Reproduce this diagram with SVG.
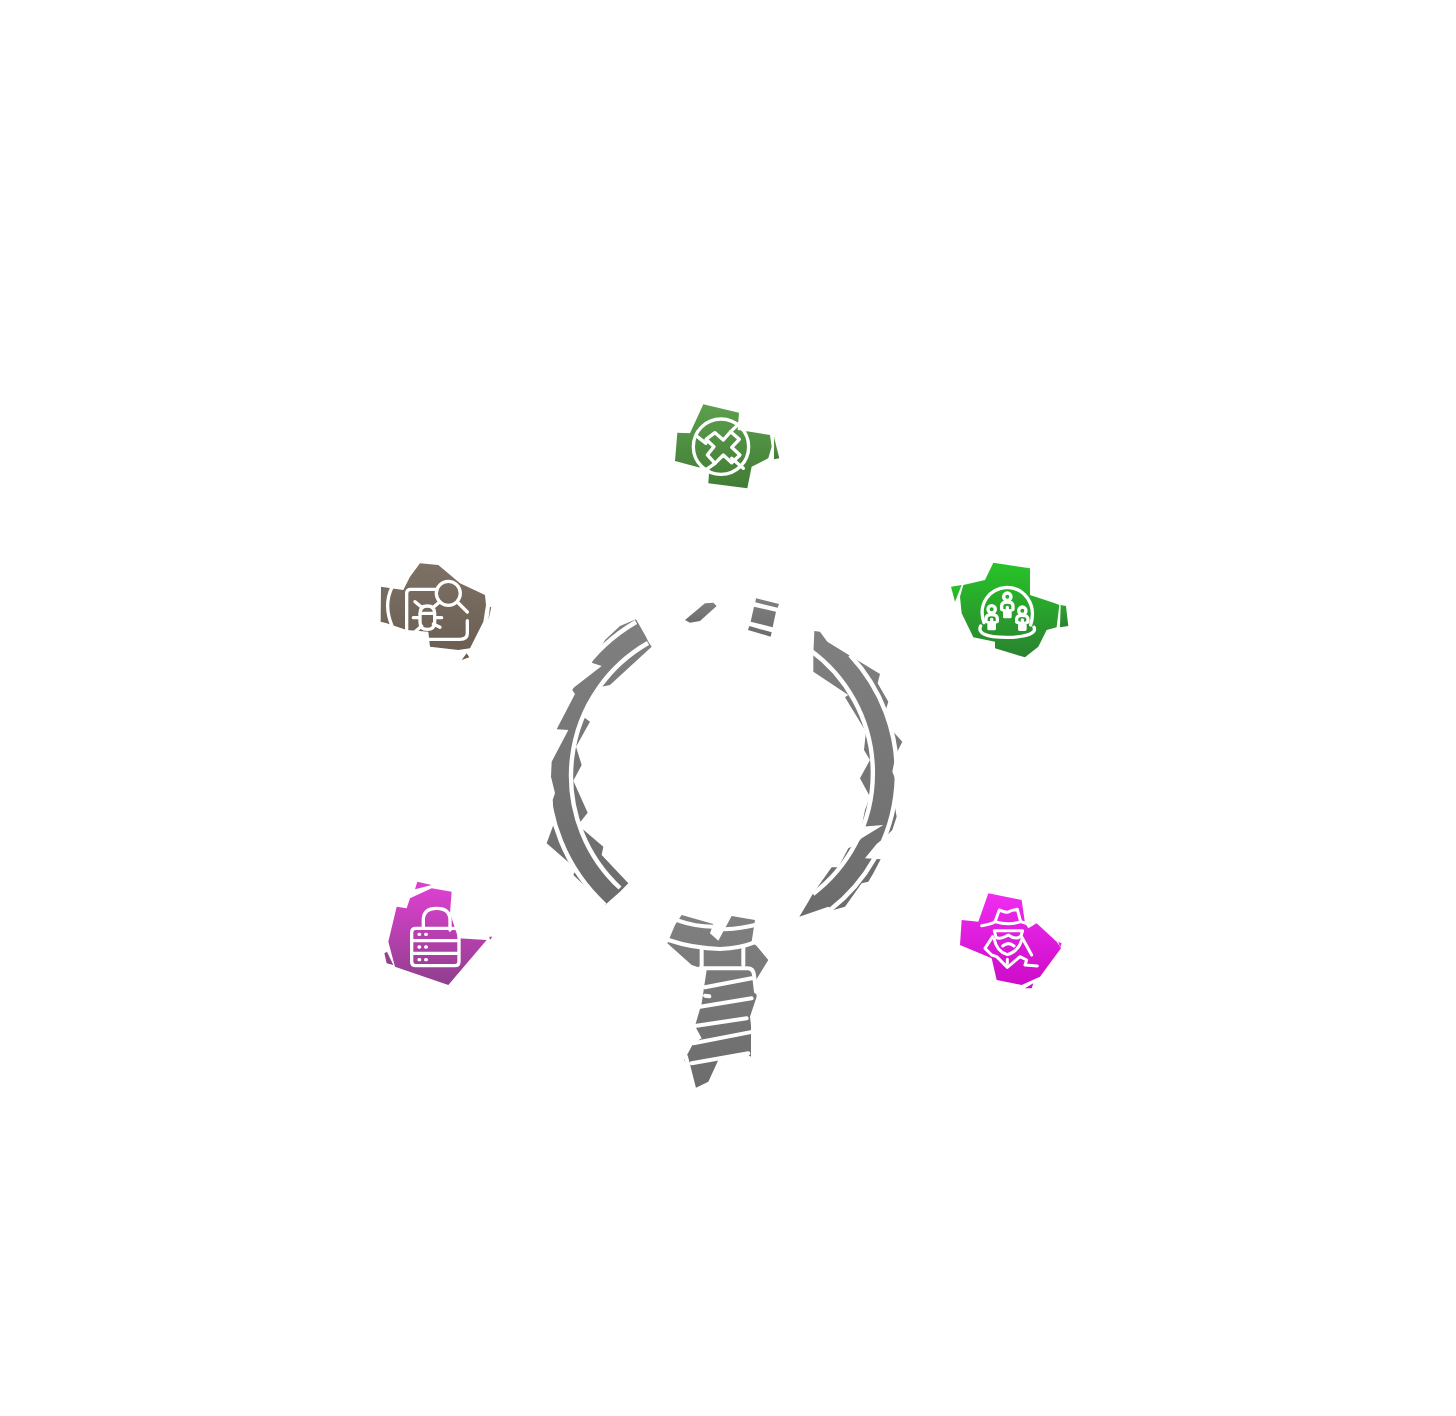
<svg xmlns="http://www.w3.org/2000/svg" width="1456" height="1416" viewBox="0 0 1456 1416">
<defs>
<linearGradient id="gGreen" x1="0" y1="0" x2="0" y2="1"><stop offset="0" stop-color="#5c9f4c"/><stop offset="1" stop-color="#417c36"/></linearGradient>
<linearGradient id="gLime" x1="0" y1="0" x2="0" y2="1"><stop offset="0" stop-color="#28c428"/><stop offset="1" stop-color="#2a8230"/></linearGradient>
<linearGradient id="gBrown" x1="0" y1="0" x2="0" y2="1"><stop offset="0" stop-color="#7d7064"/><stop offset="1" stop-color="#6b5e52"/></linearGradient>
<linearGradient id="gPurple" x1="0" y1="0" x2="0" y2="1"><stop offset="0" stop-color="#dc40d0"/><stop offset="1" stop-color="#8f3f8c"/></linearGradient>
<linearGradient id="gMagenta" x1="0" y1="0" x2="0" y2="1"><stop offset="0" stop-color="#f02cf0"/><stop offset="1" stop-color="#cc0cc8"/></linearGradient>
<linearGradient id="gGray" x1="0" y1="0" x2="0" y2="1"><stop offset="0" stop-color="#808080"/><stop offset="1" stop-color="#6c6c6c"/></linearGradient>
</defs>
<style>
.i{fill:none;stroke:#fff;stroke-width:10;stroke-linecap:round;stroke-linejoin:round}
.w{fill:none;stroke:#fff;stroke-width:4.4}
.h{fill:none;stroke:#fff;stroke-width:12;stroke-linecap:round;stroke-linejoin:round}
.p{fill:none;stroke:#fff;stroke-width:9;stroke-linecap:round;stroke-linejoin:round}
</style>
<rect width="1456" height="1416" fill="#fff"/>

<g id="node-green" transform="translate(660 390) scale(.3333)">
<path fill="url(#gGreen)" d="M130 43L237 68L233 120L270 125L330 135L335 170L325 205L275 230L262 295L145 280L148 235L115 232L45 213L52 128L90 130Z"/>
<path fill="url(#gGreen)" d="M342 140L358 205L342 208Z"/>
<circle class="i" cx="183" cy="170" r="83"/>
<path class="i" d="M165 128L190 150L212 125L238 148L215 172L240 195L215 218L190 195L165 220L142 195L162 170L138 148Z"/>
<path class="i" d="M238 100L212 125M112 140L138 160M130 245L165 220M250 235L215 205"/>
</g>

<g id="node-lime" transform="translate(940 550) scale(.3333)">
<path fill="url(#gLime)" d="M160 38L270 55L270 135L345 160L358 165L350 232L320 240L295 290L255 322L165 295L165 275L100 262L65 190L60 140L70 105L135 90Z"/>
<path fill="url(#gLime)" d="M33 110L65 105L45 155ZM362 165L378 168L385 228L360 232Z"/>
<path class="i" d="M132 218C112 160 150 115 200 112C250 112 292 160 272 225"/>
<path class="i" d="M122 228C112 248 135 262 200 262C265 262 290 248 282 232"/>
<circle class="i" cx="202" cy="140" r="11"/>
<path class="i" d="M185 178V168Q185 156 202 156Q219 156 219 168V178L210 182V200H194V182ZM202 172V198"/>
<circle class="i" cx="155" cy="178" r="11"/>
<path class="i" d="M138 214V206Q138 194 155 194Q172 194 172 206V214L163 218V236H147V218ZM155 208V234"/>
<circle class="i" cx="247" cy="182" r="11"/>
<path class="i" d="M230 216V208Q230 196 247 196Q264 196 264 208V216L255 220V238H239V220ZM247 210V236"/>
</g>

<g id="node-brown" transform="translate(370 550) scale(.3333)">
<path fill="url(#gBrown)" d="M150 40L205 45L270 100L345 135L348 165L340 215L300 295L265 300L180 290L175 245L110 240L50 220L32 215L33 110L100 120L120 80Z"/>
<path fill="url(#gBrown)" d="M360 170L364 172L355 210ZM290 310L298 322L275 330Z"/>
<path class="i" d="M66 112Q40 165 66 228"/>
<path class="i" d="M110 240V130Q110 118 122 118H198M292 212V250Q292 268 270 268H175"/>
<circle class="i" cx="235" cy="130" r="36"/>
<path class="i" d="M262 156L292 186"/>
<path class="i" d="M150 190Q150 168 172 168Q194 168 194 190V215Q194 238 172 238Q150 238 150 215ZM135 155L155 172M210 155L190 172M130 203H150M194 203H215M135 245L155 228M210 232L190 222M150 190H194"/>
</g>

<g id="node-purple" transform="translate(375 870) scale(.3333)">
<path fill="url(#gPurple)" d="M105 85L170 55L230 65L225 130L250 205L335 210L220 345L60 290L40 215L65 110L95 115Z"/>
<path fill="url(#gPurple)" d="M127 35L170 45L120 58ZM28 250L36 245L55 285L35 280ZM343 200L352 200L345 210Z"/>
<path class="i" d="M145 175V150Q145 115 185 115Q225 115 225 150V180"/>
<path class="i" d="M122 175H240Q252 175 252 187V275Q252 287 240 287H122Q110 287 110 275V187Q110 175 122 175ZM110 212H252M110 250H252"/>
<path class="i" d="M132 193H134M152 193H154M132 231H134M152 231H154M132 269H134M152 269H154"/>
</g>

<g id="node-magenta" transform="translate(950 880) scale(.3333)">
<path fill="url(#gMagenta)" d="M115 40L215 60L225 130L235 145L260 130L320 185L333 205L270 290L215 315L140 300L125 235L30 195L35 120L85 125Z"/>
<path fill="url(#gMagenta)" d="M325 185L335 190L330 205ZM225 325L250 310L245 325Z"/>
<path class="p" d="M95 137Q125 132 135 125L148 90Q165 97 172 97Q185 90 202 88L212 125Q225 130 240 132"/>
<path class="p" d="M135 125Q175 138 212 125"/>
<path class="p" d="M133 152H218L212 170Q195 180 175 165Q150 180 138 172Z"/>
<path class="p" d="M133 178Q140 215 172 224Q205 215 216 178M158 198Q175 184 192 198"/>
<path class="p" d="M128 170L105 205L125 225L140 230L172 262L210 230L230 240L225 255L262 258M215 170L245 225M172 238V250"/>
</g>

<g id="magnifier-ring">
<g transform="translate(540 590) scale(.3333)">
<path fill="url(#gGray)" d="M288 88L240 108L195 150L155 218L185 228L95 298L105 312L50 418L85 420L35 515L33 560L45 610L38 630L42 700L20 760L95 825L105 845L100 855L195 945L240 905L265 880L185 795L190 770L125 715L118 700L143 668L100 572L125 525L108 470L150 395L130 380L172 300L185 290L210 285L335 170L325 155L318 140L298 105Z"/>
<path fill="url(#gGray)" d="M495 40L520 38L530 48L480 93L450 98L435 90Z"/>
</g>
<g transform="translate(730 590) scale(.3333)">
<path fill="url(#gGray)" d="M253 123L270 125L292 155L365 200L450 252L443 280L475 335L465 368L485 420L517 455L497 495L487 545L503 585L493 640L500 680L487 720L465 742L440 762L405 805L452 808L430 850L415 875L395 880L345 950L310 960L295 950L208 980L235 935L248 912L305 832L325 832L355 775L375 765L395 745L460 705L395 710L405 660L420 620L390 565L420 510L402 480L408 425L345 322L355 315L250 245L250 195Z"/>
<path fill="url(#gGray)" d="M78 25L147 42L143 53L76 37ZM72 50L138 65L128 112L62 95ZM58 108L125 127L122 140L54 120Z"/>
</g>
<path class="w" d="M648 643A153 153 0 0 0 620 888"/>
<path class="w" d="M636 622A177 177 0 0 0 605 905"/>
<path class="w" d="M810 650A152 152 0 0 1 813 894"/>
<path class="w" d="M850 655A173 173 0 0 1 830 910"/>
</g>

<g id="magnifier-handle" transform="translate(650 900) scale(.3333)">
<path fill="url(#gGray)" d="M95 45L190 72L180 100L205 122L245 48L315 60L305 125L320 138L355 180L315 245L320 290L300 350L303 375L303 470L290 462L205 480L175 545L135 565L120 510L103 480L130 430L155 415L135 378L155 310L170 210L125 195L52 130L75 75Z"/>
<path class="h" d="M85 62Q135 80 190 80M225 88Q275 85 315 75"/>
<path class="h" d="M55 120Q130 145 210 147Q270 145 320 125"/>
<path class="h" d="M155 145V200M280 140V195"/>
<path class="h" d="M150 205H292Q310 205 312 225L318 275"/>
<path class="h" d="M165 262L305 235M150 320L305 295M135 378L290 355M130 430L310 395M125 490L295 460M108 470L132 565"/>
<path class="h" d="M165 287L178 289"/>
</g>
</svg>
